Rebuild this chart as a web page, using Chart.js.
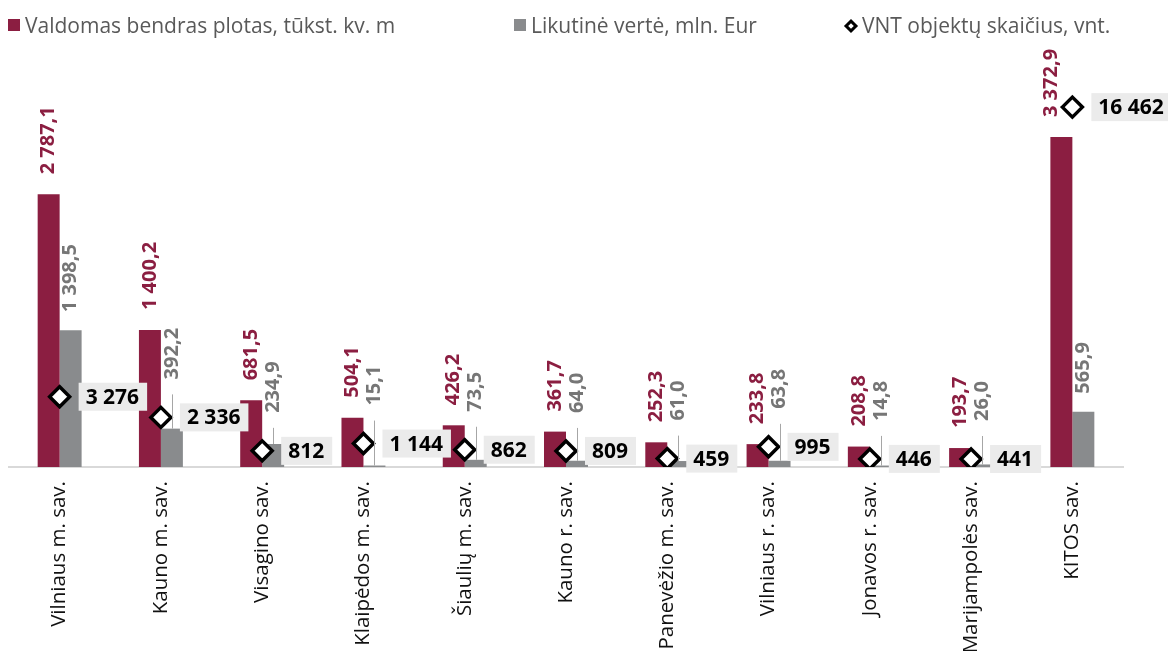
<!DOCTYPE html>
<html lang="lt">
<head>
<meta charset="utf-8">
<script src="https://cdn.jsdelivr.net/npm/chart.js@4.4.1/dist/chart.umd.min.js"></script>
<style>
  html, body { margin: 0; padding: 0; background: #fff; }
  #wrap { position: relative; width: 1168px; height: 651px; font-family: "Open Sans", sans-serif; }
  #legend .item { position: absolute; top: 12px; font-size: 21px; line-height: 26px; color: #595959; white-space: nowrap; padding-left: 17px; }
  #legend .sq { position: absolute; left: 0; top: 7px; width: 12px; height: 12px; }
  #legend .dia { position: absolute; left: 1px; top: 9px; width: 4px; height: 4px; border: 3px solid #000; background: #fff; transform: rotate(45deg); }
  canvas { position: absolute; left: 0; top: 0; }
</style>
</head>
<body>
<div id="wrap">
  <canvas id="vnt_chart" width="1168" height="651"></canvas>
  <div id="legend">
    <div class="item" style="left:8px"><span class="sq" style="background:#8b1e41"></span>Valdomas bendras plotas, tūkst. kv. m</div>
    <div class="item" style="left:514px"><span class="sq" style="background:#898b8d"></span>Likutinė vertė, mln. Eur</div>
    <div class="item" style="left:845px"><span class="dia"></span>VNT objektų skaičius, vnt.</div>
  </div>
</div>
<script>
// savivaldybės
const municipalities = ['Vilniaus m. sav.', 'Kauno m. sav.', 'Visagino sav.', 'Klaipėdos m. sav.', 'Šiaulių m. sav.',
  'Kauno r. sav.', 'Panevėžio m. sav.', 'Vilniaus r. sav.', 'Jonavos r. sav.', 'Marijampolės sav.', 'KITOS sav.'];
// valdomas bendras plotas, tūkst. kv. m
const area = [2787.1, 1400.2, 681.5, 504.1, 426.2, 361.7, 252.3, 233.8, 208.8, 193.7, 3372.9];
// likutinė vertė, mln. Eur
const residual = [1398.5, 392.2, 234.9, 15.1, 73.5, 64.0, 61.0, 63.8, 14.8, 26.0, 565.9];
// VNT objektų skaičius
const objects = [3276, 2336, 812, 1144, 862, 809, 459, 995, 446, 441, 16462];

const maroon = '#8b1e41';
const grey = '#898b8d';

function groupThousands(s) {
    return s.replace(/\B(?=(\d{3})+(?!\d))/g, ' ');
}
function fmt1(v) {
    const parts = v.toFixed(1).split('.');
    return groupThousands(parts[0]) + ',' + parts[1];
}
function fmtInt(v) {
    return groupThousands(String(Math.round(v)));
}

function drawVertical(ctx, text, x, y, colour) {
    ctx.save();
    ctx.translate(x, y);
    ctx.rotate(-Math.PI / 2);
    ctx.fillStyle = colour;
    ctx.textAlign = 'left';
    ctx.textBaseline = 'middle';
    ctx.fillText(text, 0, 0);
    ctx.restore();
}

// value labels above the bars, grey ones pushed up out of the way of the diamonds
const barLabels = {
    id: 'barLabels',
    afterDatasetsDraw(chart) {
        const ctx = chart.ctx;
        const areaMeta = chart.getDatasetMeta(0);
        const resMeta = chart.getDatasetMeta(1);
        const objMeta = chart.getDatasetMeta(2);
        ctx.save();
        ctx.font = 'bold 20px "Open Sans"';
        areaMeta.data.forEach(function (bar, i) {
            const bottom = bar.y - 20;
            const pt = objMeta.data[i];
            let x = bar.x;
            // diamond sits inside the label -> nudge label left
            if (pt.y < bottom && pt.y > bottom - 80) {
                x -= 10;
            }
            drawVertical(ctx, fmt1(area[i]), x, bottom, maroon);
        });
        resMeta.data.forEach(function (bar, i) {
            let bottom = bar.y - 18;
            const pt = objMeta.data[i];
            if (pt.y > bottom - 100) {
                bottom = Math.min(bottom, pt.y - 38);
            }
            if (bottom < bar.y - 24) {
                // leader line
                ctx.strokeStyle = '#a6a6a6';
                ctx.lineWidth = 1;
                ctx.beginPath();
                ctx.moveTo(Math.round(bar.x) + 0.5, bottom + 15);
                ctx.lineTo(Math.round(bar.x) + 0.5, bar.y);
                ctx.stroke();
            }
            drawVertical(ctx, fmt1(residual[i]), bar.x, bottom, '#767676');
        });
        ctx.restore();
    },
    afterDraw(chart) {
        const ctx = chart.ctx;
        const objMeta = chart.getDatasetMeta(2);
        ctx.save();
        ctx.font = 'bold 21px "Open Sans"';
        ctx.textBaseline = 'middle';
        ctx.textAlign = 'left';
        objMeta.data.forEach(function (pt, i) {
            const text = fmtInt(objects[i]);
            const w = ctx.measureText(text).width;
            const left = pt.x + 19;
            ctx.fillStyle = '#ebebeb';
            ctx.fillRect(left, pt.y - 14, w + 15, 28);
            ctx.fillStyle = '#000';
            ctx.fillText(text, left + 7, pt.y + 1);
        });
        ctx.restore();
    }
};

Chart.defaults.font.family = '"Open Sans", sans-serif';

const canvas = document.getElementById('vnt_chart');
const chart = new Chart(canvas, {
    type: 'bar',
    data: {
        labels: municipalities,
        datasets: [
            {
                label: 'Valdomas bendras plotas, tūkst. kv. m',
                data: area,
                backgroundColor: maroon,
                yAxisID: 'y',
                order: 1
            },
            {
                label: 'Likutinė vertė, mln. Eur',
                data: residual,
                backgroundColor: grey,
                yAxisID: 'y',
                order: 2
            },
            {
                type: 'line',
                label: 'VNT objektų skaičius, vnt.',
                data: objects,
                yAxisID: 'y2',
                showLine: false,
                pointStyle: 'rectRot',
                pointRadius: 10,
                pointBorderWidth: 3.5,
                pointBorderColor: '#000',
                pointBackgroundColor: '#fff',
                order: 0
            }
        ]
    },
    options: {
        responsive: false,
        animation: false,
        layout: { autoPadding: false, padding: { top: 60, left: 9, right: 45, bottom: 0 } },
        datasets: {
            bar: { barPercentage: 1, categoryPercentage: 0.434 }
        },
        plugins: {
            legend: { display: false },
            tooltip: { enabled: false }
        },
        scales: {
            x: {
                grid: { display: false, drawTicks: false },
                border: { color: '#d9d9d9', width: 2 },
                ticks: {
                    minRotation: 90,
                    maxRotation: 90,
                    padding: 14,
                    color: '#111',
                    font: { size: 20.5 }
                },
                afterFit: function (scale) {
                    scale.height = 184;
                    scale.paddingLeft = 0;
                    scale.paddingRight = 0;
                }
            },
            y: { display: false, min: 0, max: 4160 },
            y2: { display: false, position: 'right', min: 77, max: 18607 }
        }
    },
    plugins: [barLabels]
});
</script>
</body>
</html>
